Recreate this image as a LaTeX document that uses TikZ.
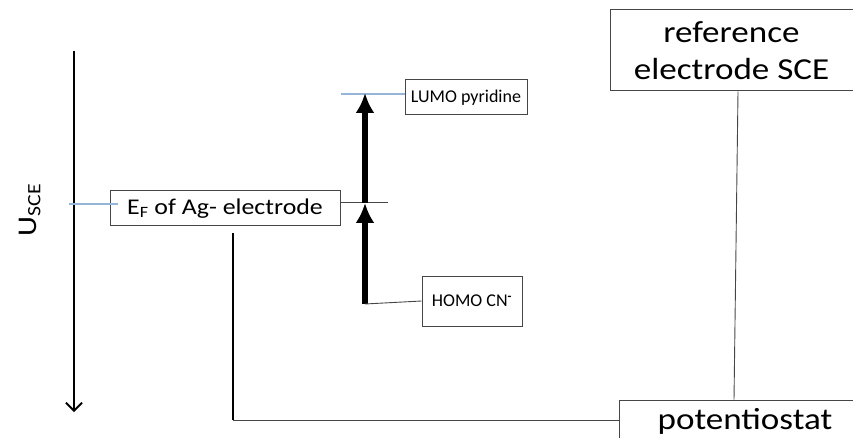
\documentclass[tikz,border=0pt]{standalone}
\usepackage{fontspec}
\setmainfont{Carlito}[FakeStretch=1.15]
\newfontfamily\levelfont{Carlito}
\usetikzlibrary{arrows.meta}
\definecolor{levelblue}{RGB}{150,182,215}
\definecolor{boxgray}{RGB}{70,70,70}
\tikzset{
  lbox/.style={draw=boxgray, line width=1pt, fill=white, inner sep=0pt, align=center},
  level/.style={levelblue, line width=1.2pt},
  wire/.style={boxgray, line width=0.9pt},
  jump/.style={-{Latex[length=20pt,width=19pt]}, line width=6pt}
}
\begin{document}
\begin{tikzpicture}[x=1pt, y=-1pt]

    \clip (0,0) rectangle (853,438);

    % Potentialachse
    \draw[-{Straight Barb[length=8pt,width=16pt]}, line width=1.8pt] (74,51) -- (74,412);
    \node[rotate=90, font=\fontsize{27}{30}\selectfont] (usce) at (30,210) {U\textsubscript{SCE}};

    % Niveaus
    \node[lbox, minimum width=230pt, minimum height=35pt, font=\fontsize{22.5}{24}\selectfont] (ef) at (225,208.5) {E\textsubscript{F} of Ag- electrode};
    \draw[level] (69,204) -- (118,204);
    \coordinate (efend) at (388,202);
    \draw[wire] (ef.east |- efend) -- (efend);

    \node[lbox, minimum width=122pt, minimum height=35pt, font=\levelfont\fontsize{18}{19}\selectfont] (lumo) at (466,97.5) {LUMO pyridine};
    \coordinate (lumolev) at (341,94);
    \draw[level] (lumolev) -- (lumo.west |- lumolev);

    \node[lbox, minimum width=100pt, minimum height=50pt, font=\levelfont\fontsize{18}{19}\selectfont] (homo) at (472,301) {HOMO CN\textsuperscript{\textbf{-}}};

    % Anregungen
    \coordinate (homolev) at (365,304);
    \coordinate (eflev) at (365,203);
    \coordinate (lumotip) at (365,93);
    \draw[jump] (homolev) -- (eflev);
    \draw[jump] (eflev) -- (lumotip);
    \draw[wire] (homolev) -- (homo.west);

    % Messkreis
    \node[lbox, minimum width=243pt, minimum height=81pt, font=\fontsize{30.5}{37}\selectfont] (sce) at (731.5,50.5) {reference\\electrode SCE};
    \node[lbox, minimum width=252pt, minimum height=42pt, font=\fontsize{30.5}{32}\selectfont] (pot) at (745,421) {potentiostat};
    \draw[wire] (sce.south -| 738,0) -- (pot.north -| 734,0);
    \coordinate (agtop) at (233,233);
    \draw[line width=2.2pt] (agtop) -- (233,420);
    \draw[wire] (233,420) -- (pot.west |- 0,420);

\end{tikzpicture}
\end{document}
